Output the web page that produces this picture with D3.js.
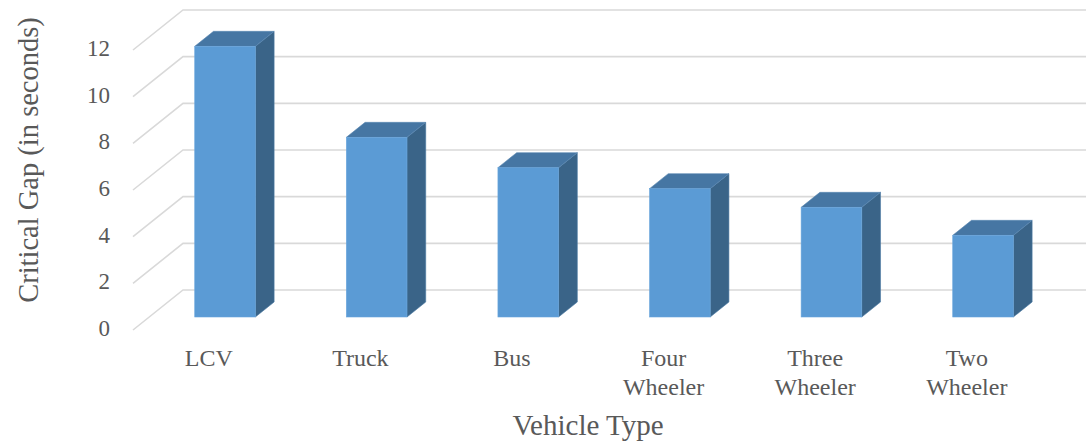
<!DOCTYPE html>
<html>
<head>
<meta charset="utf-8">
<script src="https://cdn.jsdelivr.net/npm/d3@7"></script>
<style>
  html, body { margin: 0; padding: 0; background: #ffffff; }
  svg { display: block; }
</style>
</head>
<body>
<svg id="chart" width="1086" height="445"></svg>
<script>
// Data
const categories = ["LCV", "Truck", "Bus", "Four Wheeler", "Three Wheeler", "Two Wheeler"];
const categoryLines = [["LCV"], ["Truck"], ["Bus"], ["Four", "Wheeler"], ["Three", "Wheeler"], ["Two", "Wheeler"]];
const criticalGap = [11.6, 7.7, 6.4, 5.5, 4.7, 3.5];
const yTicks = [0, 2, 4, 6, 8, 10, 12];
const yTitle = "Critical Gap (in seconds)";
const xTitle = "Vehicle Type";

const W = 1086, H = 445;
const textColor = "#595959";
const serif = "'Liberation Serif', 'Times New Roman', Times, serif";
const svg = d3.select("#chart");

// Oblique 3D projection: depth d in [0,1] shifts points right and up
const depthDX = 50, depthDY = -40;
const barFront = 0.325, barBack = 0.7;
const P = (x, y, d) => [x + depthDX * d, y + depthDY * d];

// Scales on the front plane
const x = d3.scaleBand()
  .domain(categories)
  .range([133, 133 + 909.6])
  .paddingInner(0.6)
  .paddingOuter(0.3);

const y = d3.scaleLinear().domain([0, 12]).range([330, 50]);

// Gridlines: slanted side-wall segment then along the back wall
const grid = svg.append("g");
yTicks.forEach(t => {
  const a = P(133, y(t), 0), b = P(133, y(t), 1);
  grid.append("path")
    .attr("d", `M${a[0]},${a[1]}L${b[0]},${b[1]}L${W + 10},${b[1]}`)
    .attr("fill", "none")
    .attr("stroke", "#d9d9d9")
    .attr("stroke-width", 1.6);
});

// Y tick labels
svg.append("g").selectAll("text")
  .data(yTicks)
  .join("text")
  .attr("x", 110)
  .attr("y", d => y(d) - 2)
  .attr("dy", "0.35em")
  .attr("text-anchor", "end")
  .attr("font-family", serif)
  .attr("fill", textColor)
  .attr("font-size", 23)
  .text(d => d);

// Bars as 3D boxes: side, top, then front face
const poly = pts => "M" + pts.map(p => p.join(",")).join("L") + "Z";
const bars = svg.append("g");
categories.forEach((c, i) => {
  const v = criticalGap[i];
  const x0 = x(c), x1 = x(c) + x.bandwidth();
  const yt = y(v), yb = y(0);
  const g = bars.append("g");
  g.append("path")
    .attr("d", poly([P(x1, yt, barFront), P(x1, yb, barFront), P(x1, yb, barBack), P(x1, yt, barBack)]))
    .attr("fill", "#3a6488")
    .attr("stroke", "#4a78a2").attr("stroke-width", 0.6);
  g.append("path")
    .attr("d", poly([P(x0, yt, barFront), P(x1, yt, barFront), P(x1, yt, barBack), P(x0, yt, barBack)]))
    .attr("fill", "#4676a3")
    .attr("stroke", "#5a88b2").attr("stroke-width", 0.6);
  const f0 = P(x0, yt, barFront), f1 = P(x1, yb, barFront);
  g.append("rect")
    .attr("x", f0[0]).attr("y", f0[1])
    .attr("width", f1[0] - f0[0]).attr("height", f1[1] - f0[1])
    .attr("fill", "#5b9bd5")
    .attr("stroke", "#6aa6dc").attr("stroke-width", 0.6);
});

// Category labels
const xl = svg.append("g");
categories.forEach((c, i) => {
  const cx = x(c) + x.bandwidth() / 2;
  const t = xl.append("text")
    .attr("text-anchor", "middle")
    .attr("font-family", serif)
    .attr("fill", textColor)
    .attr("font-size", 24);
  categoryLines[i].forEach((line, j) => {
    t.append("tspan").attr("x", cx).attr("y", 366 + j * 29).text(line);
  });
});

// Axis titles
svg.append("text")
  .attr("x", 588).attr("y", 435)
  .attr("text-anchor", "middle")
  .attr("font-family", serif)
  .attr("fill", textColor)
  .attr("font-size", 29)
  .text(xTitle);

svg.append("text")
  .attr("transform", "translate(38,160) rotate(-90)")
  .attr("text-anchor", "middle")
  .attr("font-family", serif)
  .attr("fill", textColor)
  .attr("font-size", 28.5)
  .text(yTitle);
</script>
</body>
</html>
